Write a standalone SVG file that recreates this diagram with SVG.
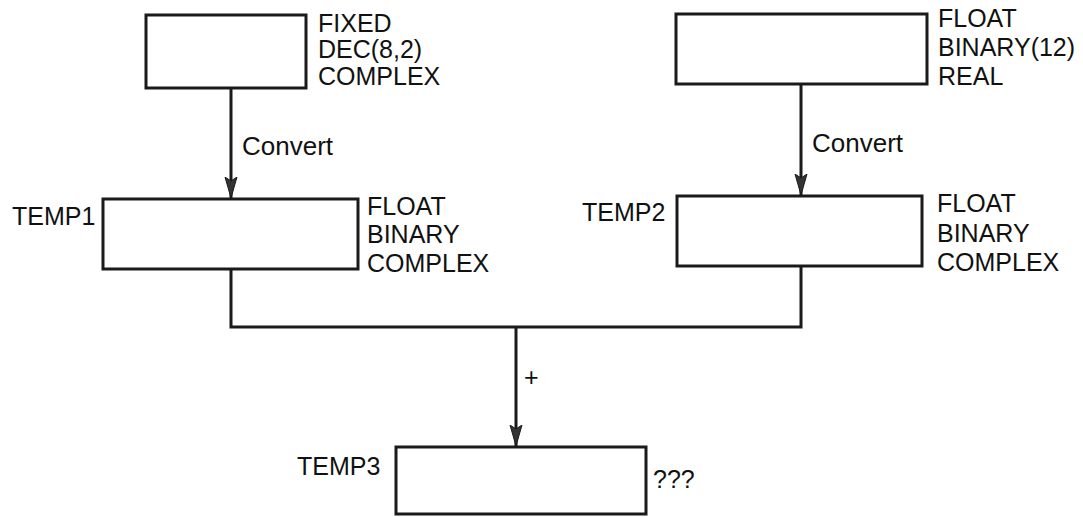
<svg xmlns="http://www.w3.org/2000/svg" width="1083" height="517" viewBox="0 0 1083 517">
<style>
.box{fill:#fff;stroke:#1a1a1a;stroke-width:3}
.t{font-family:"Liberation Sans",Arial,sans-serif;font-size:25px;fill:#111}
.cv{font-size:26px}
.c{fill:none;stroke:#1a1a1a;stroke-width:3}
</style>
<defs>
<marker id="ah" markerUnits="userSpaceOnUse" markerWidth="22" markerHeight="14" refX="21" refY="7" orient="auto" viewBox="0 0 22 14">
<path d="M0,1 L21,7 L0,13 L4,7 Z" fill="#333" stroke="#1a1a1a" stroke-width="1"/>
</marker>
</defs>
<rect width="1083" height="517" fill="#fff"/>
<g id="connectors">
<line class="c" x1="231" y1="88" x2="231" y2="198" marker-end="url(#ah)"/>
<line class="c" x1="801" y1="84" x2="801" y2="195" marker-end="url(#ah)"/>
<polyline class="c" points="231,269 231,327 801,327 801,266"/>
<line class="c" x1="516" y1="327" x2="516" y2="446" marker-end="url(#ah)"/>
<text class="t cv" x="242" y="155">Convert</text>
<text class="t cv" x="812" y="152">Convert</text>
<text class="t" x="524" y="386">+</text>
</g>
<g id="src1">
<rect class="box" x="146" y="15" width="160" height="73"/>
<text class="t" x="318" y="32">FIXED</text>
<text class="t" x="318" y="58">DEC(8,2)</text>
<text class="t" x="318" y="85">COMPLEX</text>
</g>
<g id="src2">
<rect class="box" x="676" y="14" width="251" height="70"/>
<text class="t" x="938" y="27">FLOAT</text>
<text class="t" x="938" y="56">BINARY(12)</text>
<text class="t" x="938" y="85">REAL</text>
</g>
<g id="temp1">
<text class="t" x="12" y="225">TEMP1</text>
<rect class="box" x="103" y="199" width="255" height="70"/>
<text class="t" x="367" y="215">FLOAT</text>
<text class="t" x="367" y="243">BINARY</text>
<text class="t" x="367" y="272">COMPLEX</text>
</g>
<g id="temp2">
<text class="t" x="582" y="221">TEMP2</text>
<rect class="box" x="677" y="196" width="245" height="70"/>
<text class="t" x="937" y="212">FLOAT</text>
<text class="t" x="937" y="242">BINARY</text>
<text class="t" x="937" y="271">COMPLEX</text>
</g>
<g id="temp3">
<text class="t" x="297" y="475">TEMP3</text>
<rect class="box" x="396" y="447" width="250" height="67"/>
<text class="t" x="653" y="488">???</text>
</g>
</svg>
